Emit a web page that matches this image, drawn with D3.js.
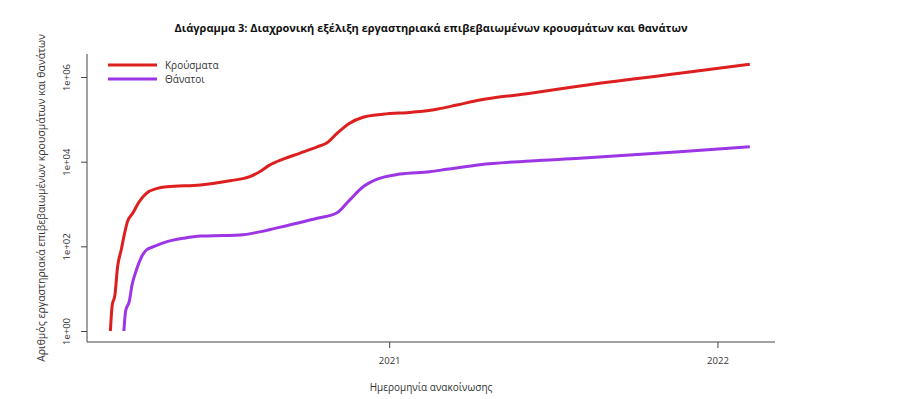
<!DOCTYPE html>
<html>
<head>
<meta charset="utf-8">
<script src="https://cdn.jsdelivr.net/npm/d3@7"></script>
<style>
  body { margin: 0; background: #fff; }
  text { font-family: "Open Sans", "Noto Sans", sans-serif; }
</style>
</head>
<body>
<script>
// Cumulative lab-confirmed cases and deaths
var caseDates = ["2020-02-26", "2020-02-28", "2020-03-02", "2020-03-05", "2020-03-09", "2020-03-12",
  "2020-03-16", "2020-03-22", "2020-03-29", "2020-04-06", "2020-04-18", "2020-04-29", "2020-06-05",
  "2020-07-08", "2020-07-30", "2020-08-10", "2020-08-21", "2020-09-05", "2020-09-24", "2020-10-13",
  "2020-10-24", "2020-11-04", "2020-11-18", "2020-12-03", "2020-12-25", "2021-01-27", "2021-02-23",
  "2021-03-17", "2021-04-12", "2021-06-07", "2021-08-01", "2021-11-20", "2022-02-06"];
var caseValues = [1, 4, 7, 33, 82, 170, 384, 615, 1130, 1790, 2340, 2560, 2820,
  3550, 4420, 5780, 8300, 11500, 16000, 22500, 28000, 46700, 81000, 112000, 132000, 148000, 174000,
  218000, 287000, 412000, 617000, 1230000, 2000000];

var deathDates = ["2020-03-12", "2020-03-14", "2020-03-18", "2020-03-21", "2020-03-26", "2020-03-31",
  "2020-04-06", "2020-04-14", "2020-04-29", "2020-05-17", "2020-06-05", "2020-07-01", "2020-07-19",
  "2020-08-10", "2020-09-12", "2020-10-13", "2020-11-04", "2020-11-18", "2020-12-03", "2020-12-18",
  "2021-01-13", "2021-02-15", "2021-03-06", "2021-04-12", "2021-06-07", "2021-08-01", "2021-11-20",
  "2022-02-06"];
var deathValues = [1, 3, 5, 12, 28, 53, 82, 98, 129, 155, 175, 180, 185,
  220, 320, 460, 620, 1240, 2560, 3820, 5100, 5800, 6600, 8500, 10400, 12000, 17200, 22500];

var seriesNames = ["Κρούσματα", "Θάνατοι"];
var seriesColors = ["#dd1f1f", "#9c35e6"];
var yTicks = [1, 1e2, 1e4, 1e6];
var yTickLabels = ["1e+00", "1e+02", "1e+04", "1e+06"];
var xTicks = ["2021-01-01", "2022-01-01"];

var width = 900, height = 399;
var margin = {top: 54, right: 125, bottom: 57, left: 87};

var parse = d3.timeParse("%Y-%m-%d");
var cases = caseDates.map(function(d, i) { return {date: parse(d), value: caseValues[i]}; });
var deaths = deathDates.map(function(d, i) { return {date: parse(d), value: deathValues[i]}; });

var svg = d3.select("body").append("svg")
  .attr("width", width)
  .attr("height", height);

var x = d3.scaleTime()
  .domain([parse("2020-01-31"), parse("2022-03-06")])
  .range([margin.left, width - margin.right]);
var y = d3.scaleLog()
  .domain([0.55, 3.5e6])
  .range([height - margin.bottom, margin.top]);

// L-shaped box (bty = "l")
svg.append("path")
  .attr("d", "M" + margin.left + "," + margin.top + "V" + (height - margin.bottom) + "H" + (width - margin.right))
  .attr("fill", "none")
  .attr("stroke", "#444")
  .attr("stroke-width", 1);

// Y axis
var yAxis = svg.append("g")
  .attr("transform", "translate(" + margin.left + ",0)")
  .call(d3.axisLeft(y).tickValues(yTicks).tickSize(6).tickFormat(function(d, i) { return yTickLabels[i]; }));
yAxis.select(".domain").remove();
yAxis.selectAll(".tick line").attr("stroke", "#444");
yAxis.selectAll(".tick text")
  .attr("transform", "rotate(-90)")
  .attr("x", 0)
  .attr("y", -20)
  .attr("dy", "0.32em")
  .attr("text-anchor", "middle")
  .style("font-size", "9.5px")
  .attr("fill", "#333");

// X axis
var xAxis = svg.append("g")
  .attr("transform", "translate(0," + (height - margin.bottom) + ")")
  .call(d3.axisBottom(x).tickValues(xTicks.map(parse)).tickSize(6).tickFormat(d3.timeFormat("%Y")));
xAxis.select(".domain").remove();
xAxis.selectAll(".tick line").attr("stroke", "#444");
xAxis.selectAll(".tick text")
  .attr("y", 15)
  .style("font-size", "9.5px")
  .attr("fill", "#333");

// Lines
var line = d3.line()
  .x(function(d) { return x(d.date); })
  .y(function(d) { return y(d.value); })
  .curve(d3.curveMonotoneX);

[cases, deaths].forEach(function(s, i) {
  svg.append("path")
    .datum(s)
    .attr("fill", "none")
    .attr("stroke", seriesColors[i])
    .attr("stroke-width", 3)
    .attr("d", line);
});

// Legend
var legend = svg.append("g").attr("transform", "translate(108,65)");
seriesNames.forEach(function(name, i) {
  legend.append("line")
    .attr("x1", 0).attr("x2", 49)
    .attr("y1", i * 14).attr("y2", i * 14)
    .attr("stroke", seriesColors[i])
    .attr("stroke-width", 3);
  legend.append("text")
    .attr("x", 57).attr("y", i * 14)
    .attr("dy", "0.35em")
    .style("font-size", "10px")
    .attr("fill", "#333")
    .text(name);
});

// Titles
svg.append("text")
  .attr("x", 431).attr("y", 32)
  .attr("text-anchor", "middle")
  .style("font-size", "11px")
  .style("font-weight", "bold")
  .attr("fill", "#111")
  .text("Διάγραμμα 3: Διαχρονική εξέλιξη εργαστηριακά επιβεβαιωμένων κρουσμάτων και θανάτων");

svg.append("text")
  .attr("x", 431).attr("y", 391)
  .attr("text-anchor", "middle")
  .style("font-size", "10px")
  .attr("fill", "#333")
  .text("Ημερομηνία ανακοίνωσης");

svg.append("text")
  .attr("transform", "translate(45,198) rotate(-90)")
  .attr("text-anchor", "middle")
  .style("font-size", "10.5px")
  .attr("fill", "#333")
  .text("Αριθμός εργαστηριακά επιβεβαιωμένων κρουσμάτων και θανάτων");
</script>
</body>
</html>
